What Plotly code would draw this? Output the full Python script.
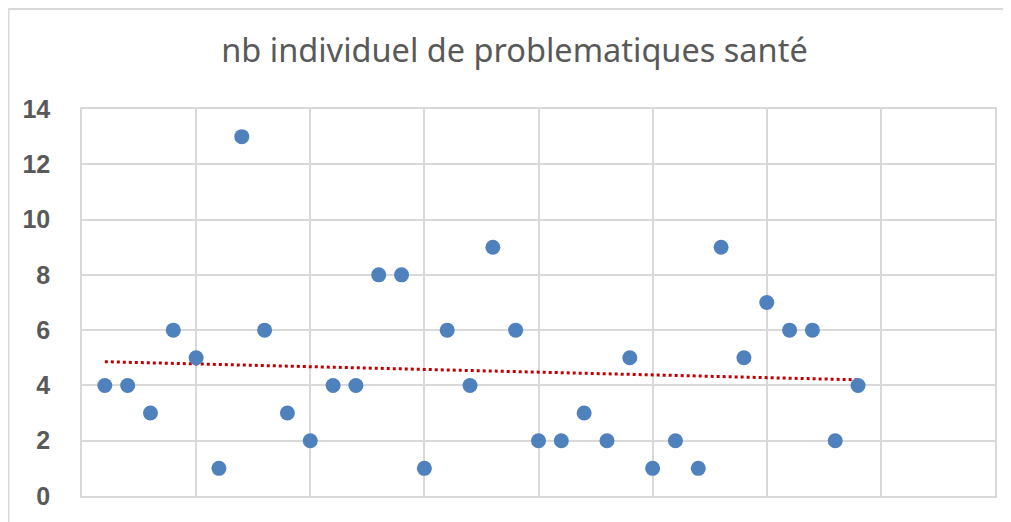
import numpy as np
import plotly.graph_objects as go

x_vals = list(range(1, 35))
y_vals = [4, 4, 3, 6, 5, 1, 13, 6, 3, 2, 4, 4, 8, 8, 1, 6, 4, 9, 6, 2,
          2, 3, 2, 5, 1, 2, 1, 9, 5, 7, 6, 6, 2, 4]
title_text = "nb individuel de problematiques santé"
y_ticks = [0, 2, 4, 6, 8, 10, 12, 14]

slope, intercept = np.polyfit(x_vals, y_vals, 1)
tx = [x_vals[0], x_vals[-1]]
ty = [slope * v + intercept for v in tx]

fig = go.Figure()
fig.add_trace(go.Scatter(x=tx, y=ty, mode="lines",
                         line=dict(color="#C00000", width=3, dash="dot"),
                         hoverinfo="skip", showlegend=False))
fig.add_trace(go.Scatter(x=x_vals, y=y_vals, mode="markers",
                         marker=dict(color="#4F81BD", size=15),
                         showlegend=False))

grid = "#D9D9D9"
L, T, PW, PH = 74, 101, 913, 387
fig.update_layout(
    width=1011, height=522,
    margin=dict(l=L, r=1011 - L - PW, t=T, b=522 - T - PH),
    paper_bgcolor="white", plot_bgcolor="white",
    title=dict(text=title_text, x=0.501, xanchor="center", y=1 - 43 / 522, yanchor="middle",
               font=dict(family="Noto Sans", size=32.5, color="#595959")),
    xaxis=dict(range=[0, 40], dtick=5, showticklabels=False, showgrid=True,
               gridcolor=grid, gridwidth=1.5, zeroline=False,
               showline=True, linecolor=grid, linewidth=1.5, mirror=True),
    yaxis=dict(range=[0, 14], tickvals=y_ticks, showgrid=True,
               gridcolor=grid, gridwidth=1.5, zeroline=False,
               showline=True, linecolor=grid, linewidth=1.5, mirror=True,
               ticklabelstandoff=25,
               tickfont=dict(family="Liberation Sans", size=25, color="#595959", weight="bold")),
    shapes=[dict(type="rect", xref="paper", yref="paper",
                 x0=(0.5 - L) / PW, x1=1.1, y0=-0.3, y1=(T + PH - 1) / PH,
                 line=dict(color="#D9D9D9", width=2), layer="below")],
)
fig.write_html("out.html")
